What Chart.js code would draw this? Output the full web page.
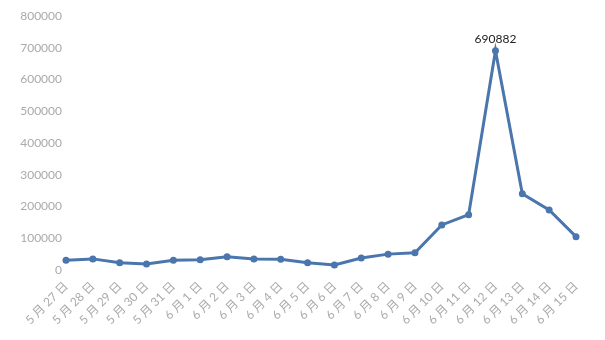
<!DOCTYPE html>
<html>
<head>
<meta charset="utf-8">
<script src="https://cdn.jsdelivr.net/npm/chart.js@4"></script>
<style>
  html, body { margin: 0; padding: 0; background: #fff; }
  #wrap { width: 605px; height: 340px; }
</style>
</head>
<body>
<div id="wrap"><canvas id="chart"></canvas></div>
<script>
// 日期
const labels = ['5 月 27 日', '5 月 28 日', '5 月 29 日', '5 月 30 日', '5 月 31 日', '6 月 1 日', '6 月 2 日',
    '6 月 3 日', '6 月 4 日', '6 月 5 日', '6 月 6 日', '6 月 7 日', '6 月 8 日', '6 月 9 日', '6 月 10 日',
    '6 月 11 日', '6 月 12 日', '6 月 13 日', '6 月 14 日', '6 月 15 日'];

// 每日数值
const values = [31000, 35000, 23000, 19000, 31000, 32000, 42000, 35000, 34000, 23000,
    16000, 38000, 50000, 54000, 142000, 174000, 690882, 240000, 189000, 105000];

// 只标注最大值
const peakIndex = values.indexOf(Math.max(...values));

const peakLabel = {
    id: 'peakLabel',
    afterDatasetsDraw(chart) {
        const ctx = chart.ctx;
        const pt = chart.getDatasetMeta(0).data[peakIndex];
        ctx.save();
        ctx.font = '12px Lato, "Noto Sans CJK SC", sans-serif';
        ctx.fillStyle = '#222';
        ctx.textAlign = 'center';
        ctx.textBaseline = 'bottom';
        ctx.fillText(values[peakIndex], pt.x, pt.y - 6);
        ctx.restore();
    }
};

new Chart(document.getElementById('chart'), {
    type: 'line',
    data: {
        labels: labels,
        datasets: [{
            data: values,
            borderColor: '#4a76ad',
            backgroundColor: '#4a76ad',
            borderWidth: 3,
            pointRadius: 3.5,
            pointBorderWidth: 0,
            tension: 0,
            fill: false
        }]
    },
    options: {
        responsive: true,
        maintainAspectRatio: false,
        animation: false,
        layout: { padding: { top: 16, right: 29, bottom: 0, left: 0 } },
        plugins: {
            legend: { display: false },
            tooltip: { enabled: false }
        },
        scales: {
            x: {
                offset: false,
                afterFit(scale) { scale.height = 70; },
                grid: { display: false, drawTicks: false },
                border: { display: false },
                ticks: {
                    color: '#aaaaaa',
                    font: { family: 'Lato, "Noto Sans CJK SC", sans-serif', size: 12 },
                    minRotation: 45,
                    maxRotation: 45,
                    autoSkip: false,
                    padding: 9
                }
            },
            y: {
                min: 0,
                max: 800000,
                afterFit(scale) { scale.width = 66; },
                grid: { display: false, drawTicks: false },
                border: { display: false },
                ticks: {
                    stepSize: 100000,
                    color: '#aaaaaa',
                    font: { family: 'Lato, sans-serif', size: 12 },
                    padding: 4,
                    callback: v => String(v)
                }
            }
        }
    },
    plugins: [peakLabel]
});
</script>
</body>
</html>
